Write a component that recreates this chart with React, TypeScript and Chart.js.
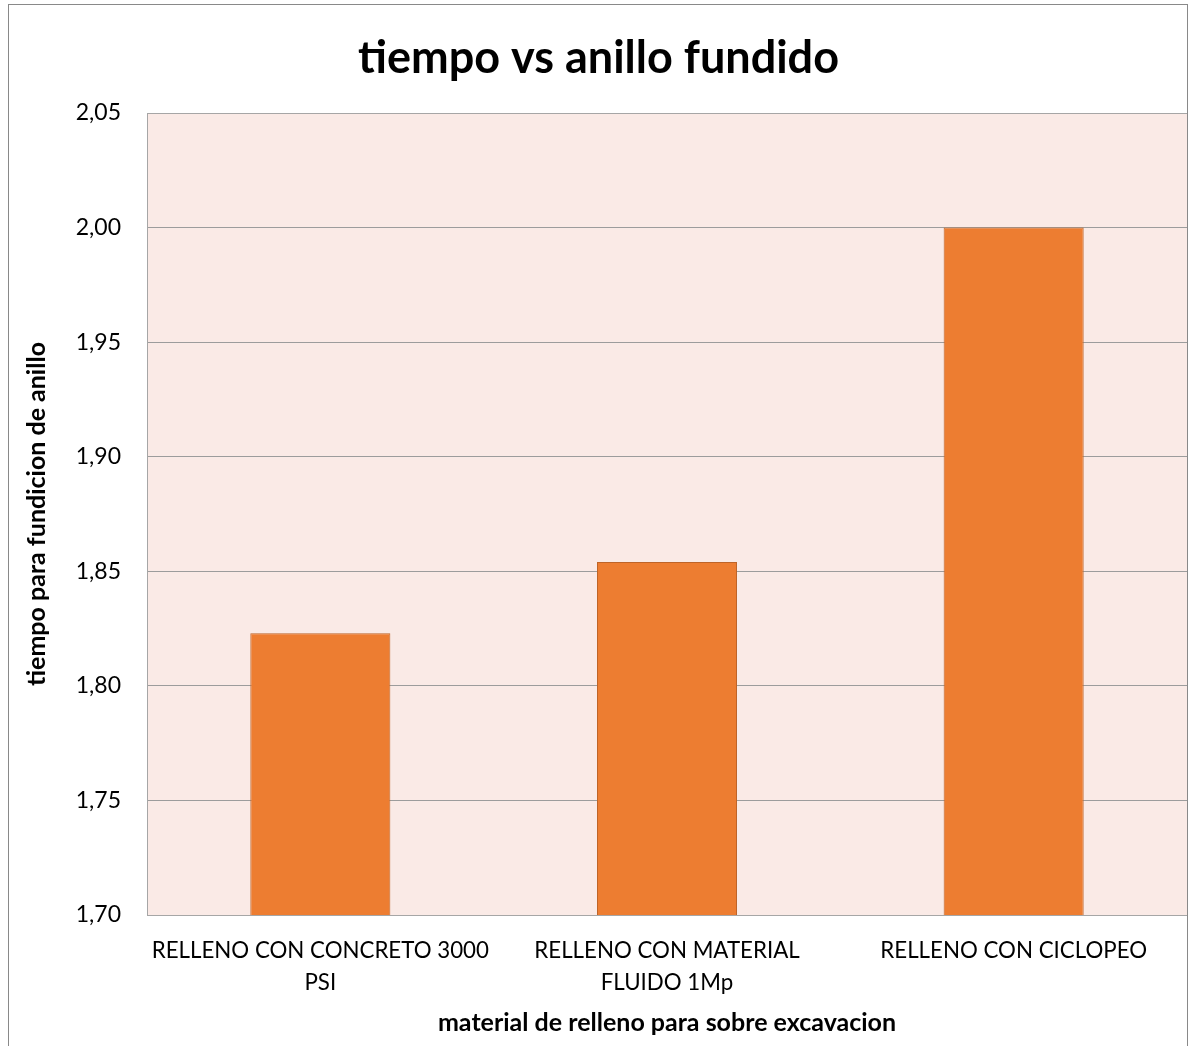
import React, { useEffect, useRef } from "react";
import { Chart, registerables } from "chart.js";

Chart.register(...registerables);

const categories: string[][] = [
  ["RELLENO CON CONCRETO 3000", "PSI"],
  ["RELLENO CON MATERIAL", "FLUIDO 1Mp"],
  ["RELLENO CON CICLOPEO"],
];
const values: number[] = [1.823, 1.854, 2.0];
const yMin = 1.7;
const yMax = 2.05;
const yStep = 0.05;
const chartTitle = "tiempo vs anillo fundido";
const xTitle = "material de relleno para sobre excavacion";
const yTitle = "tiempo para fundicion de anillo";

const W = 1188;
const H = 1046;

const decorPlugin = {
  id: "decor",
  beforeDraw(chart: any) {
    const { ctx, chartArea } = chart;
    ctx.save();
    ctx.fillStyle = "#ffffff";
    ctx.fillRect(0, 0, chart.width, chart.height);
    ctx.fillStyle = "#FAEAE6";
    ctx.fillRect(chartArea.left, chartArea.top, chartArea.right - chartArea.left, chartArea.bottom - chartArea.top);
    ctx.restore();
  },
  beforeDatasetsDraw(chart: any) {
    const { ctx, chartArea } = chart;
    ctx.save();
    ctx.strokeStyle = "#A6A6A6";
    ctx.lineWidth = 1;
    ctx.strokeRect(
      Math.round(chartArea.left) + 0.5,
      Math.round(chartArea.top) + 0.5,
      Math.round(chartArea.right - chartArea.left),
      Math.round(chartArea.bottom - chartArea.top)
    );
    ctx.restore();
  },
  afterDraw(chart: any) {
    const { ctx } = chart;
    ctx.save();
    ctx.strokeStyle = "#898989";
    ctx.lineWidth = 1;
    ctx.strokeRect(8.5, 4.5, 1179, 1100);
    ctx.restore();
  },
};

export default function App() {
  const ref = useRef<HTMLCanvasElement>(null);
  useEffect(() => {
    if (!ref.current) return;
    const chart = new Chart(ref.current, {
      type: "bar",
      data: {
        labels: categories,
        datasets: [
          {
            data: values,
            backgroundColor: "#ED7D31",
            borderColor: "#BE6428",
            borderWidth: 1,
            barPercentage: 0.404,
            categoryPercentage: 1,
          },
        ],
      },
      options: {
        responsive: false,
        animation: false,
        devicePixelRatio: 1,
        layout: { padding: { left: 10, right: 1, top: 0, bottom: 0 } },
        plugins: {
          legend: { display: false },
          tooltip: { enabled: false },
          title: {
            display: true,
            text: chartTitle,
            color: "#000000",
            font: { family: "Lato", size: 45, weight: "bold", lineHeight: 1.2 },
            padding: { top: 31, bottom: 28 },
          },
        },
        scales: {
          x: {
            grid: { display: false, drawTicks: false },
            border: { display: false },
            ticks: {
              color: "#000000",
              font: { family: "Lato", size: 22.3, lineHeight: 1.43 },
              padding: 20,
              maxRotation: 0,
              autoSkip: false,
            },
            title: {
              display: true,
              text: xTitle,
              color: "#000000",
              font: { family: "Lato", size: 25, weight: "bold", lineHeight: 1.2 },
              padding: { top: 0, bottom: 8 },
            },
            afterFit(scale: any) {
              scale.height = 131;
            },
          },
          y: {
            min: yMin,
            max: yMax,
            grid: { color: "#9C9C9C", lineWidth: 1, drawTicks: false },
            border: { display: false },
            ticks: {
              stepSize: yStep,
              color: "#000000",
              font: { family: "Lato", size: 23 },
              padding: 26,
              callback: (v: any) => Number(v).toFixed(2).replace(".", ","),
            },
            title: {
              display: true,
              text: yTitle,
              color: "#000000",
              font: { family: "Lato", size: 25, weight: "bold", lineHeight: 1.2 },
              padding: { top: 12, bottom: 0 },
            },
            afterFit(scale: any) {
              scale.width = 137;
            },
          },
        },
      },
      plugins: [decorPlugin],
    } as any);
    return () => chart.destroy();
  }, []);
  return (
    <div style={{ position: "absolute", left: 0, top: 0, width: W, height: H }}>
      <canvas ref={ref} width={W} height={H} style={{ display: "block", width: W, height: H }} />
    </div>
  );
}
